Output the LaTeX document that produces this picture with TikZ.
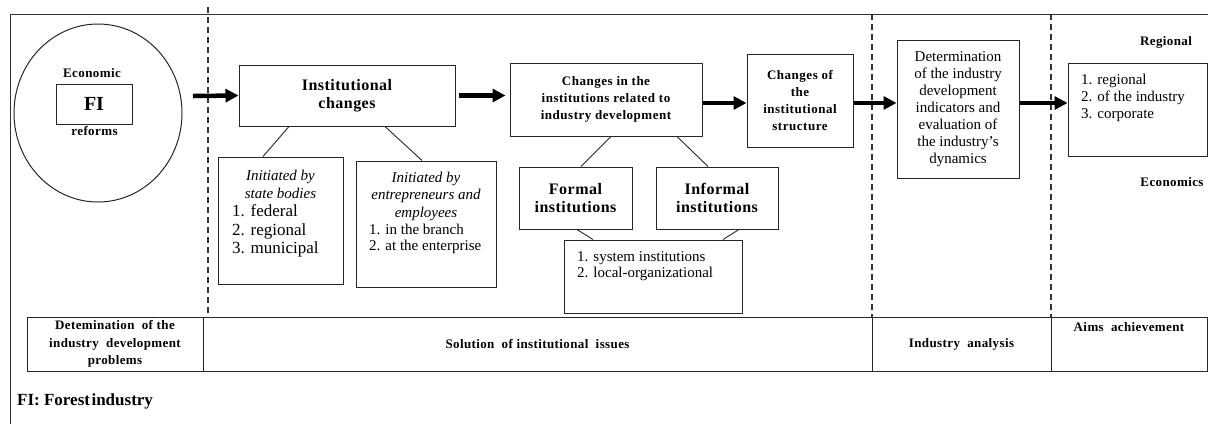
\documentclass[tikz,border=0pt]{standalone}
\usepackage{fontspec}
\setmainfont{Liberation Serif}
\usetikzlibrary{arrows.meta,shapes.geometric}
\begin{document}
\begin{tikzpicture}[x=1pt,y=-1pt,
  box/.style={draw=black!85, line width=1pt, rectangle, inner sep=0pt, align=center},
  txt/.style={inner sep=0pt},
  bsm/.style={inner sep=0pt, align=center, font=\fontsize{13}{17.5}\selectfont\bfseries\addfontfeature{LetterSpace=3}},
  bmid/.style={font=\fontsize{13}{17}\selectfont\bfseries\addfontfeature{LetterSpace=4}},
  bbig/.style={font=\fontsize{16}{18}\selectfont\bfseries\addfontfeature{LetterSpace=3}},
  reg/.style={font=\fontsize{15}{17}\selectfont},
  ital/.style={font=\fontsize{15}{18}\selectfont\itshape},
  bigarrow/.style={-{Triangle[length=13pt,width=13pt]}, line width=4.5pt},
  conn/.style={line width=0.9pt, black!85},
  sep/.style={dash pattern=on 6pt off 4pt, line width=1.2pt, black!80},
  frame/.style={line width=1pt, black!80}
  ]
\useasboundingbox (0,0) rectangle (1208,424);

% frame and separators
\draw[frame] (1208,14) -- (10,14) -- (10,424);
\draw[sep] (208,7) -- (208,317);
\draw[sep] (872,14) -- (872,317);
\draw[sep] (1051,14) -- (1051,317);

% left circle
\node[draw=black!85, line width=1pt, ellipse, minimum width=168pt, minimum height=178pt, inner sep=0pt] (circ) at (98,113) {};
\node[box, minimum width=76pt, minimum height=40pt, font=\fontsize{20}{22}\selectfont\bfseries] (fi) at (94,104) {FI};
\node[bsm] (econ) at (92,73) {Economic};
\node[bsm] (refo) at (94.5,131) {reforms};

% institutional changes
\node[box, bbig, minimum width=216pt, minimum height=61pt] (ic) at (347,95.5) {Institutional\\changes};

\node[box, minimum width=125pt, minimum height=127pt] (sb) at (280.5,220.5) {};
\node[txt, ital, anchor=north, align=center] (sbh) at (280.5,169.5) {Initiated by\\state bodies};
\node[txt, anchor=north west, align=left, font=\fontsize{17}{18.5}\selectfont] (sbl) at (232,204.5) {1. federal\\2. regional\\3. municipal};

\node[box, minimum width=140pt, minimum height=126pt] (eb) at (426,224) {};
\node[txt, anchor=north, align=center, font=\fontsize{15}{17.5}\selectfont\itshape] (ebh) at (426,171.5) {Initiated by\\entrepreneurs and\\employees};
\node[txt, anchor=north west, align=left, font=\fontsize{15}{16.5}\selectfont] (ebl) at (369,223.5) {1. in the branch\\2. at the enterprise};

% changes in institutions
\node[box, bmid, minimum width=192pt, minimum height=73pt] (cin) at (606,99.5) {Changes in the\\institutions related to\\industry development};
\node[box, bmid, minimum width=106pt, minimum height=93pt] (cis) at (800,100.5) {Changes of\\the\\institutional\\structure};

\node[box, bbig, minimum width=113pt, minimum height=62pt] (formal) at (575.5,198) {Formal\\institutions};
\node[box, bbig, minimum width=122pt, minimum height=62pt] (informal) at (717,198) {Informal\\institutions};

\node[box, minimum width=178pt, minimum height=73pt] (bot) at (653,276.5) {};
\node[txt, reg, anchor=north west, align=left, font=\fontsize{15}{16}\selectfont] (botl) at (577,251.5) {1. system institutions\\2. local-organizational};

% determination
\node[box, reg, minimum width=122pt, minimum height=138pt] (det) at (958,109) {Determination\\of the industry\\development\\indicators and\\evaluation of\\the industry's\\dynamics};

% regional box
\node[box, minimum width=139pt, minimum height=93pt] (rbox) at (1137.5,109.5) {};
\node[txt, anchor=north west, align=left, font=\fontsize{15}{17}\selectfont] (rl) at (1081,73.5) {1. regional\\2. of the industry\\3. corporate};
\node[bsm] (regl) at (1166,42) {Regional};
\node[bsm] (ecol) at (1172,182) {Economics};

% arrows
\coordinate (a1) at (193,96);
\draw[bigarrow] (a1) -- (ic.west);
\draw[bigarrow, shorten >=4pt] ([xshift=3pt]ic.east) -- (ic.east -| cin.west);
\draw[bigarrow] ([yshift=-2.5pt]cis.west -| cin.east) -- ([yshift=-2.5pt]cis.west);
\draw[bigarrow] ([yshift=-2.5pt]cis.east) -- ([yshift=-2.5pt]cis.east -| det.west);
\draw[bigarrow] ([yshift=6pt]det.east) -- ([yshift=6pt]det.east -| rbox.west);

% connectors
\draw[conn] ([xshift=-58pt]ic.south) -- ([xshift=-17.5pt]sb.north);
\draw[conn] ([xshift=38pt]ic.south) -- ([xshift=-4pt]eb.north);
\draw[conn] ([xshift=5pt]cin.south) -- ([xshift=5.5pt]formal.north);
\draw[conn] ([xshift=71pt]cin.south) -- ([xshift=-9pt]informal.north);
\draw[conn] ([xshift=1.5pt]formal.south) -- ([xshift=-60pt]bot.north);
\draw[conn] ([xshift=22pt]informal.south) -- ([xshift=70pt]bot.north);

% bottom table
\node[box, bsm, minimum width=176pt, minimum height=54pt] (c1) at (115,344) {Detemination\ \ of the\\industry\ \ development\\problems};
\node[box, bsm, minimum width=669pt, minimum height=54pt] (c2) at (537.5,344) {Solution\ \ of institutional\ \ issues};
\node[box, bsm, minimum width=179pt, minimum height=54pt] (c3) at (961.5,344) {Industry\ \ analysis};
\node[box, minimum width=156pt, minimum height=54pt] (c4) at (1129,344) {};
\node[bsm] (c4t) at (1129,327) {Aims\ \ achievement};

\node[txt, anchor=west, font=\fontsize{17}{19}\selectfont\bfseries] (legend) at (17,401) {FI: Forest\hspace{1.5pt}industry};
\end{tikzpicture}
\end{document}
